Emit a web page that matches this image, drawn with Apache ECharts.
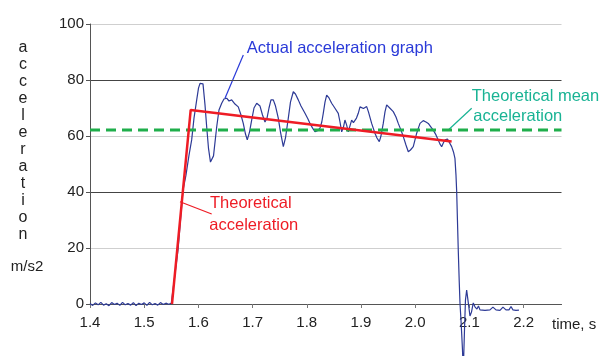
<!DOCTYPE html>
<html><head><meta charset="utf-8">
<script src="https://cdn.jsdelivr.net/npm/echarts@6/dist/echarts.min.js"></script>
<style>html,body{margin:0;padding:0;background:#fff}#c{width:604px;height:356px}</style>
</head><body><div id="c"></div><script>
// Actual (measured) acceleration, time in s, acceleration in m/s2
const actualTime = [
 1.400,1.405,1.410,1.415,1.420,1.425,1.430,1.435,1.440,1.445,1.450,1.455,1.460,1.465,1.470,1.475,
 1.480,1.485,1.490,1.495,1.500,1.505,1.510,1.515,1.520,1.525,1.530,1.535,1.540,1.545,1.550,
 1.5513,1.5624,1.5716,1.5771,1.5827,1.5876,1.5919,1.5969,1.6002,1.6030,1.6057,1.6085,1.6122,1.6153,
 1.6186,1.6223,1.6251,1.6279,1.6338,1.6380,1.6430,1.6472,1.6522,1.6565,1.6614,1.6675,1.6736,1.6786,
 1.6828,1.6869,1.6902,1.6943,1.6983,1.7026,1.7076,1.7109,1.7137,1.7183,1.7229,1.7266,1.7303,1.7339,
 1.7382,1.7423,1.7474,1.7515,1.7567,1.7607,1.7659,1.7699,1.7751,1.7791,1.7843,1.7893,1.7967,1.8022,
 1.8059,1.8105,1.8151,1.8197,1.8244,1.8277,1.8304,1.8336,1.8367,1.8410,1.8459,1.8493,1.8520,1.8581,
 1.8613,1.8644,1.8677,1.8704,1.8736,1.8765,1.8797,1.8828,1.8861,1.8889,1.8917,1.8950,1.8982,1.9013,
 1.9046,1.9074,1.9105,1.9138,1.9197,1.9258,1.9295,1.9338,1.9369,1.9411,1.9443,1.9474,1.9507,1.9535,
 1.9596,1.9646,1.9688,1.9738,1.9781,1.9830,1.9873,1.9913,1.9965,2.0028,2.0061,2.0089,2.0149,2.0199,
 2.0242,2.0292,2.0334,2.0384,2.0426,2.0458,2.0489,2.0519,2.0550,2.0596,2.0629,2.0673,2.0707,2.0734,
 2.0753,2.0766,2.0780,2.0795,2.0812,2.0827,2.0845,2.0858,2.0873,2.0888,2.0910,2.0928,2.0950,2.0974,
 2.1011,2.1039,2.1072,2.1103,2.1140,2.1168,2.1196,2.1288,2.1380,2.1435,2.1491,2.1565,2.1620,2.1675,
 2.1731,2.1768,2.1804,2.1860,2.1915
];
const actualAccel = [
 0.2,-0.5,0.4,-0.3,0.6,-0.4,0.1,-0.6,0.5,-0.2,0.3,-0.5,0.6,-0.3,0.2,-0.4,
 0.5,-0.6,0.3,-0.2,0.4,-0.5,0.6,-0.3,0.2,-0.4,0.5,-0.2,0.3,-0.1,0.2,
 0.3,19.3,40.7,46,53.2,58.6,66.4,72.9,77.1,78.8,79.3,78.6,71.1,63.3,
 55.7,50.7,50.0,52.9,63.3,69.3,71.7,73.2,73.5,72.5,72.9,71.4,70.4,67.5,
 64.5,60.7,58.6,61.4,65.7,70,71.7,72.3,70.7,67.5,65,66.4,70,72.9,
 72.9,70.7,66.4,61.4,56.2,59.3,66.4,72.1,75.8,75,72.9,70.7,68.1,66.1,
 64.5,62.9,61.5,61.9,62.8,65,68.1,72.1,74.6,73.6,71.7,70.7,69.9,68.1,
 65,61.5,63.2,65.7,63.9,61.5,63.6,65.7,64.8,64.5,66.4,68.1,70.4,71.1,
 69.8,69.3,70.5,68.6,64.5,61,59.3,58,60,64.5,68.6,71.1,70.4,69.9,
 68.7,66.8,64.5,62.1,59.8,56.8,54.4,55,56.2,61,62.9,64.5,65.5,65,
 64.5,63.2,62.1,60.4,58.6,57.1,56.2,57.5,58.6,58.9,58.8,56.2,54.3,52,
 46.1,40.1,30,19.3,8.6,0.3,-5.7,-10.5,-16.4,-24,-9.3,1.4,5,1.4,
 -4.3,-2.9,0.4,-1,-1.8,-0.7,-2.1,-2.3,-2.1,-1.1,-2.1,-2.3,-1.1,-2.1,
 -2.1,-0.9,-2.1,-2.3,-2.2
];
// Theoretical acceleration
const theoTime = [1.5513, 1.5858, 2.0673];
const theoAccel = [0, 69.3, 58];
// Theoretical mean acceleration
const meanTime = [1.4, 2.27];
const meanAccel = [62.1, 62.1];
// Axis ticks
const xTicks = [1.4, 1.5, 1.6, 1.7, 1.8, 1.9, 2.0, 2.1, 2.2];
const yTicks = [0, 20, 40, 60, 80, 100];
const yLetters = ['a','c','c','e','l','e','r','a','t','i','o','n'];

const zip = (a, b) => a.map((v, i) => [v, b[i]]);
const FONT = '"Liberation Sans", Arial, sans-serif';

const chart = echarts.init(document.getElementById('c'), null, {renderer: 'canvas'});
chart.setOption({
  animation: false,
  backgroundColor: '#fff',
  grid: {left: 90, right: 42.5, top: 24, bottom: 52},
  xAxis: {
    type: 'value', min: 1.4, max: 2.27, interval: 0.1,
    axisLine: {onZero: false, lineStyle: {color: '#555', width: 1}},
    axisTick: {show: true, length: 4, customValues: xTicks, lineStyle: {color: '#777'}},
    axisLabel: {customValues: xTicks, margin: 11, fontSize: 15, color: '#222', fontFamily: FONT,
      formatter: v => v.toFixed(1)},
    splitLine: {show: false}
  },
  yAxis: {
    type: 'value', min: yTicks[0], max: yTicks[yTicks.length-1], interval: 20,
    axisLine: {show: true, lineStyle: {color: '#555', width: 1}},
    axisTick: {show: true, length: 4, lineStyle: {color: '#555'}},
    axisLabel: {margin: 6, fontSize: 15, color: '#222', fontFamily: FONT},
    splitLine: {show: true, lineStyle: {color: ['#444', '#cfcfcf'], width: 1}}
  },
  series: [
    {type: 'line', data: zip(actualTime, actualAccel), showSymbol: false, clip: false, z: 2,
      lineStyle: {color: '#2d3a96', width: 1.2}},
    {type: 'line', data: zip(meanTime, meanAccel), showSymbol: false, clip: false, z: 3,
      lineStyle: {color: '#1fae4b', width: 3, type: [10, 6]}},
    {type: 'line', data: zip(theoTime, theoAccel), showSymbol: false, clip: false, z: 4,
      lineStyle: {color: '#ee1c25', width: 2.5}}
  ],
  graphic: [
    {type: 'text', x: 23, y: 39.5, style: {text: yLetters.join('\n'), lineHeight: 17,
      fontSize: 16, fontFamily: FONT, fill: '#222', align: 'center', verticalAlign: 'top'}},
    {type: 'text', x: 27, y: 267, style: {text: 'm/s2', fontSize: 15, fontFamily: FONT,
      fill: '#222', align: 'center', verticalAlign: 'middle'}},
    {type: 'text', x: 552, y: 325, style: {text: 'time, s', fontSize: 15, fontFamily: FONT,
      fill: '#222', align: 'left', verticalAlign: 'middle'}},
    {type: 'line', shape: {x1: 243.3, y1: 55, x2: 225, y2: 98.3}, style: {stroke: '#2a3ad8', lineWidth: 1.2}},
    {type: 'text', x: 246.7, y: 48, style: {text: 'Actual acceleration graph', fontSize: 16.5,
      fontFamily: FONT, fill: '#2a3ad8', align: 'left', verticalAlign: 'middle'}},
    {type: 'line', shape: {x1: 471.7, y1: 108.3, x2: 448.3, y2: 130}, style: {stroke: '#19b394', lineWidth: 1.2}},
    {type: 'text', x: 471.7, y: 96.7, style: {text: 'Theoretical mean', fontSize: 16.5,
      fontFamily: FONT, fill: '#19b394', align: 'left', verticalAlign: 'middle'}},
    {type: 'text', x: 473.3, y: 116.7, style: {text: 'acceleration', fontSize: 16.5,
      fontFamily: FONT, fill: '#19b394', align: 'left', verticalAlign: 'middle'}},
    {type: 'line', shape: {x1: 180, y1: 201.7, x2: 211.7, y2: 214}, style: {stroke: '#ee1c25', lineWidth: 1.2}},
    {type: 'text', x: 210, y: 203.3, style: {text: 'Theoretical', fontSize: 16.5,
      fontFamily: FONT, fill: '#ee1c25', align: 'left', verticalAlign: 'middle'}},
    {type: 'text', x: 209.3, y: 225, style: {text: 'acceleration', fontSize: 16.5,
      fontFamily: FONT, fill: '#ee1c25', align: 'left', verticalAlign: 'middle'}}
  ]
});
</script></body></html>
